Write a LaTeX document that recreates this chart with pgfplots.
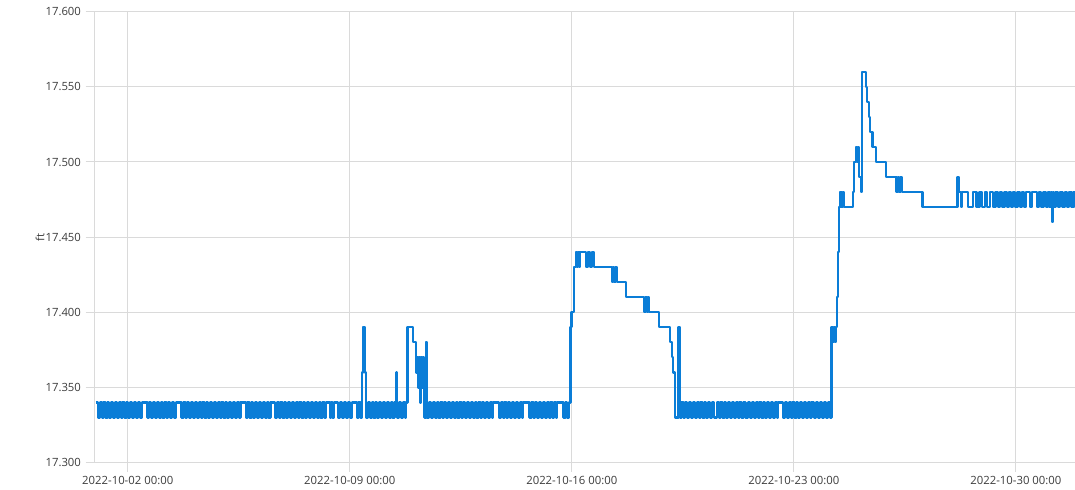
\documentclass[border=0pt]{standalone}
\usepackage{fontspec}
\setmainfont{Open Sans}
\usepackage{pgfplots}
\pgfplotsset{compat=1.18}
\definecolor{gridc}{RGB}{218,218,218}
\definecolor{linec}{RGB}{10,125,215}
\definecolor{txtc}{RGB}{60,60,60}
\begin{document}
\begin{tikzpicture}
\useasboundingbox (-71.25pt,-19.9pt) rectangle (735pt,346.9pt);
\begin{axis}[
  scale only axis, width=735pt, height=338.1pt,
  xmin=-0.031, xmax=30.864, ymin=17.3, ymax=17.6,
  axis x line=bottom, axis y line=left,
  axis line style={-, draw=gridc, line width=0.75pt},
  grid=major, major grid style={draw=gridc, line width=0.75pt},
  tick align=outside, major tick length=7pt,
  tick style={draw=gridc, line width=0.75pt},
  xtick={1,8,15,22,29},
  xticklabels={2022-10-02 00:00,2022-10-09 00:00,2022-10-16 00:00,2022-10-23 00:00,2022-10-30 00:00},
  ytick={17.3,17.35,17.4,17.45,17.5,17.55,17.6},
  /pgf/number format/assume math mode=true,
  yticklabel={\pgfmathprintnumber[fixed,fixed zerofill,precision=3]{\tick}},
  tick label style={font=\fontsize{8.5pt}{10pt}\selectfont, text=txtc},
  ylabel={ft},
  ylabel style={at={(axis description cs:-0.056,0.5)}, anchor=center, font=\fontsize{8.5pt}{10pt}\selectfont, text=txtc},
]
\addplot[const plot, draw=linec, line width=1.7pt, line join=round] table[row sep=\\] {
x y\\
0.00 17.34\\ 0.06 17.33\\ 0.12 17.34\\ 0.18 17.33\\ 0.24 17.34\\ 0.30 17.33\\ 0.36 17.34\\ 0.42 17.33\\ 0.48 17.34\\ 0.54 17.33\\
0.60 17.34\\ 0.66 17.33\\ 0.72 17.34\\ 0.78 17.33\\ 0.84 17.34\\ 0.90 17.33\\ 0.96 17.34\\ 1.02 17.33\\ 1.08 17.34\\ 1.14 17.33\\
1.20 17.34\\ 1.26 17.33\\ 1.32 17.34\\ 1.38 17.33\\ 1.44 17.34\\
1.62 17.33\\ 1.68 17.34\\ 1.74 17.33\\ 1.80 17.34\\ 1.86 17.33\\ 1.92 17.34\\ 1.98 17.33\\ 2.04 17.34\\ 2.10 17.33\\ 2.16 17.34\\
2.22 17.33\\ 2.28 17.34\\ 2.34 17.33\\ 2.40 17.34\\ 2.46 17.33\\ 2.52 17.34\\
2.70 17.33\\ 2.76 17.34\\ 2.82 17.33\\ 2.88 17.34\\ 2.94 17.33\\ 3.00 17.34\\ 3.06 17.33\\ 3.12 17.34\\ 3.18 17.33\\ 3.24 17.34\\
3.30 17.33\\ 3.36 17.34\\ 3.42 17.33\\ 3.48 17.34\\ 3.54 17.33\\ 3.60 17.34\\ 3.66 17.33\\ 3.72 17.34\\ 3.78 17.33\\ 3.84 17.34\\
3.90 17.33\\ 3.96 17.34\\ 4.02 17.33\\ 4.08 17.34\\ 4.14 17.33\\ 4.20 17.34\\ 4.26 17.33\\ 4.32 17.34\\ 4.38 17.33\\ 4.44 17.34\\
4.50 17.33\\ 4.56 17.34\\
4.72 17.33\\ 4.78 17.34\\ 4.84 17.33\\ 4.90 17.34\\ 4.96 17.33\\ 5.02 17.34\\ 5.08 17.33\\ 5.14 17.34\\ 5.20 17.33\\ 5.26 17.34\\
5.32 17.33\\ 5.38 17.34\\ 5.44 17.33\\ 5.50 17.34\\
5.64 17.33\\ 5.70 17.34\\ 5.76 17.33\\ 5.82 17.34\\ 5.88 17.33\\ 5.94 17.34\\ 6.00 17.33\\ 6.06 17.34\\ 6.12 17.33\\ 6.18 17.34\\
6.24 17.33\\ 6.30 17.34\\ 6.36 17.33\\ 6.42 17.34\\ 6.48 17.33\\ 6.54 17.34\\ 6.60 17.33\\ 6.66 17.34\\ 6.72 17.33\\ 6.78 17.34\\
6.84 17.33\\ 6.90 17.34\\ 6.96 17.33\\ 7.02 17.34\\ 7.08 17.33\\ 7.14 17.34\\ 7.20 17.33\\ 7.26 17.34\\
7.38 17.33\\ 7.42 17.34\\ 7.46 17.33\\ 7.50 17.34\\
7.64 17.33\\ 7.70 17.34\\ 7.76 17.33\\ 7.82 17.34\\ 7.88 17.33\\ 7.94 17.34\\ 8.00 17.33\\ 8.06 17.34\\
8.22 17.33\\ 8.28 17.34\\ 8.34 17.33\\ 8.38 17.36\\ 8.41 17.39\\ 8.48 17.36\\ 8.51 17.33\\
8.57 17.34\\ 8.63 17.33\\ 8.69 17.34\\ 8.75 17.33\\ 8.81 17.34\\ 8.87 17.33\\ 8.93 17.34\\ 8.99 17.33\\ 9.05 17.34\\ 9.11 17.33\\
9.17 17.34\\ 9.23 17.33\\ 9.29 17.34\\ 9.35 17.33\\ 9.41 17.34\\ 9.47 17.36\\ 9.50 17.33\\ 9.56 17.34\\ 9.62 17.33\\ 9.68 17.34\\
9.74 17.33\\ 9.78 17.34\\
9.82 17.39\\ 9.99 17.38\\ 10.09 17.36\\ 10.12 17.37\\ 10.15 17.35\\ 10.18 17.37\\ 10.21 17.34\\ 10.24 17.37\\ 10.27 17.35\\ 10.30 17.37\\
10.33 17.34\\ 10.36 17.33\\ 10.40 17.38\\ 10.44 17.33\\
10.50 17.34\\ 10.56 17.33\\ 10.62 17.34\\ 10.68 17.33\\ 10.74 17.34\\ 10.80 17.33\\ 10.86 17.34\\ 10.92 17.33\\ 10.98 17.34\\ 11.04 17.33\\
11.10 17.34\\ 11.16 17.33\\ 11.22 17.34\\ 11.28 17.33\\ 11.34 17.34\\ 11.40 17.33\\ 11.46 17.34\\ 11.52 17.33\\ 11.58 17.34\\ 11.64 17.33\\
11.70 17.34\\ 11.76 17.33\\ 11.82 17.34\\ 11.88 17.33\\ 11.94 17.34\\ 12.00 17.33\\ 12.06 17.34\\ 12.12 17.33\\ 12.18 17.34\\ 12.24 17.33\\
12.30 17.34\\ 12.36 17.33\\ 12.42 17.34\\ 12.48 17.33\\ 12.52 17.34\\
12.70 17.33\\ 12.76 17.34\\ 12.82 17.33\\ 12.88 17.34\\ 12.94 17.33\\ 13.00 17.34\\ 13.06 17.33\\ 13.12 17.34\\ 13.18 17.33\\ 13.24 17.34\\
13.30 17.33\\ 13.36 17.34\\ 13.42 17.33\\ 13.46 17.34\\
13.67 17.33\\ 13.73 17.34\\ 13.79 17.33\\ 13.85 17.34\\ 13.91 17.33\\ 13.97 17.34\\ 14.03 17.33\\ 14.09 17.34\\ 14.15 17.33\\ 14.21 17.34\\
14.27 17.33\\ 14.33 17.34\\ 14.39 17.33\\ 14.45 17.34\\ 14.51 17.33\\ 14.54 17.34\\
14.74 17.33\\ 14.80 17.34\\ 14.86 17.33\\ 14.92 17.34\\
14.96 17.39\\ 14.99 17.40\\ 15.06 17.43\\ 15.13 17.44\\ 15.17 17.43\\ 15.20 17.44\\ 15.24 17.43\\ 15.27 17.44\\
15.45 17.43\\ 15.51 17.44\\ 15.57 17.43\\ 15.63 17.44\\ 15.70 17.43\\
16.26 17.42\\ 16.30 17.43\\ 16.34 17.42\\ 16.38 17.43\\ 16.42 17.42\\ 16.71 17.41\\
17.28 17.40\\ 17.32 17.41\\ 17.36 17.40\\ 17.40 17.41\\ 17.44 17.40\\ 17.76 17.39\\
18.10 17.38\\ 18.16 17.37\\ 18.20 17.36\\ 18.25 17.33\\ 18.36 17.39\\ 18.40 17.33\\
18.46 17.34\\ 18.52 17.33\\ 18.58 17.34\\ 18.64 17.33\\ 18.70 17.34\\ 18.76 17.33\\ 18.82 17.34\\ 18.88 17.33\\ 18.94 17.34\\ 19.00 17.33\\
19.06 17.34\\ 19.12 17.33\\ 19.18 17.34\\ 19.24 17.33\\ 19.30 17.34\\ 19.36 17.33\\ 19.42 17.34\\
19.49 17.33\\ 19.57 17.34\\ 19.63 17.33\\ 19.69 17.34\\ 19.75 17.33\\ 19.81 17.34\\ 19.87 17.33\\ 19.93 17.34\\ 19.99 17.33\\ 20.05 17.34\\
20.11 17.33\\ 20.17 17.34\\ 20.23 17.33\\ 20.29 17.34\\ 20.35 17.33\\ 20.41 17.34\\
20.48 17.33\\ 20.56 17.34\\ 20.62 17.33\\ 20.68 17.34\\ 20.74 17.33\\ 20.80 17.34\\ 20.86 17.33\\ 20.92 17.34\\ 20.98 17.33\\ 21.04 17.34\\
21.10 17.33\\ 21.16 17.34\\ 21.22 17.33\\ 21.28 17.34\\ 21.34 17.33\\ 21.40 17.34\\ 21.46 17.33\\ 21.50 17.34\\
21.66 17.33\\ 21.72 17.34\\ 21.78 17.33\\ 21.84 17.34\\ 21.90 17.33\\ 21.96 17.34\\ 22.02 17.33\\ 22.08 17.34\\ 22.14 17.33\\ 22.20 17.34\\
22.26 17.33\\ 22.32 17.34\\ 22.38 17.33\\ 22.44 17.34\\ 22.50 17.33\\ 22.56 17.34\\
22.63 17.33\\ 22.71 17.34\\ 22.77 17.33\\ 22.83 17.34\\ 22.89 17.33\\ 22.95 17.34\\ 23.01 17.33\\ 23.07 17.34\\ 23.13 17.33\\
23.19 17.39\\ 23.24 17.38\\ 23.27 17.39\\ 23.30 17.38\\ 23.33 17.39\\ 23.37 17.41\\ 23.40 17.44\\ 23.43 17.47\\ 23.45 17.48\\
23.47 17.47\\ 23.50 17.48\\ 23.52 17.47\\ 23.55 17.48\\ 23.58 17.47\\
23.87 17.48\\ 23.90 17.50\\ 23.97 17.51\\ 24.00 17.50\\ 24.03 17.51\\ 24.06 17.49\\ 24.11 17.48\\ 24.15 17.56\\
24.27 17.55\\ 24.31 17.54\\ 24.36 17.53\\ 24.41 17.52\\ 24.48 17.51\\ 24.59 17.50\\ 24.91 17.49\\
25.24 17.48\\ 25.28 17.49\\ 25.32 17.48\\ 25.36 17.49\\ 25.40 17.48\\ 26.06 17.47\\
27.16 17.49\\ 27.21 17.48\\ 27.28 17.47\\ 27.31 17.48\\ 27.49 17.47\\ 27.65 17.48\\
27.76 17.47\\ 27.85 17.48\\ 27.94 17.47\\ 28.02 17.48\\ 28.10 17.47\\ 28.18 17.48\\
28.28 17.47\\ 28.36 17.48\\ 28.44 17.47\\ 28.50 17.48\\
28.56 17.47\\ 28.64 17.48\\ 28.72 17.47\\ 28.78 17.48\\ 28.84 17.47\\ 28.90 17.48\\
28.98 17.47\\ 29.05 17.48\\ 29.12 17.47\\ 29.19 17.48\\ 29.26 17.47\\ 29.32 17.48\\
29.44 17.47\\ 29.50 17.48\\
29.66 17.47\\ 29.73 17.48\\ 29.80 17.47\\ 29.87 17.48\\ 29.94 17.47\\ 30.01 17.48\\ 30.06 17.47\\ 30.10 17.48\\
30.12 17.47\\ 30.13 17.46\\ 30.16 17.48\\
30.19 17.47\\ 30.25 17.48\\
30.33 17.47\\ 30.40 17.48\\ 30.47 17.47\\ 30.54 17.48\\ 30.61 17.47\\ 30.68 17.48\\ 30.75 17.47\\ 30.82 17.48\\
30.86 17.47\\ 30.90 17.48\\
};
\end{axis}
\end{tikzpicture}
\end{document}
